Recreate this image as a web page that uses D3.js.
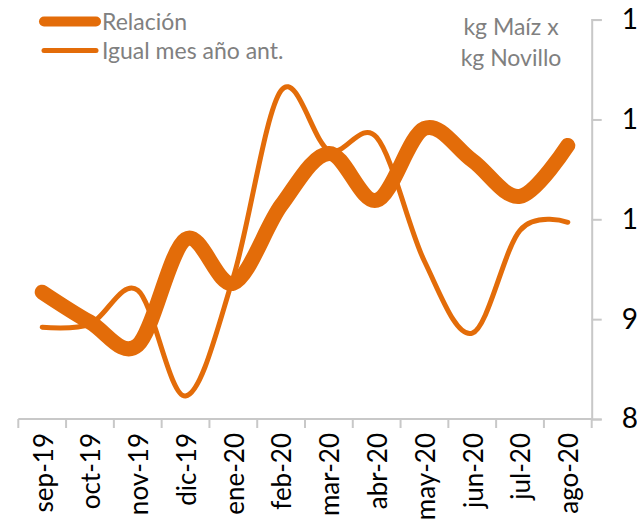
<!DOCTYPE html>
<html>
<head>
<meta charset="utf-8">
<script src="https://cdn.jsdelivr.net/npm/d3@7"></script>
<style>
  body { margin: 0; background: #fff; }
  svg { display: block; font-family: Lato, "Open Sans", sans-serif; }
</style>
</head>
<body>
<svg width="637" height="520"></svg>
<script>
// months shown on the x axis
var months = ["sep-19", "oct-19", "nov-19", "dic-19", "ene-20", "feb-20",
              "mar-20", "abr-20", "may-20", "jun-20", "jul-20", "ago-20"]
// kg maiz per kg novillo, current month
var relacion = [9.27, 8.97, 8.74, 9.80, 9.36, 10.14, 10.66, 10.19, 10.91, 10.59, 10.23, 10.74]
// same month a year before
var igualMes = [8.92, 8.95, 9.29, 8.23, 9.42, 11.29, 10.69, 10.82, 9.58, 8.86, 9.89, 9.97]
var yTicks = [8, 9, 10, 11, 12]

var orange = "#e36c09"
var grey = "#808080"
var axisGrey = "#c8c8c8"

window.onload = function () {
    var svg = d3.select("svg")

    var x = d3.scaleBand().domain(months).range([18.3, 591.7])
    var y = d3.scaleLinear().domain([8, 12]).range([419, 19.6])

    // y axis on the right (labels get cut by the edge, like the original)
    var yAxis = svg.append("g")
        .attr("transform", "translate(591.7,0)")
        .call(d3.axisRight(y).tickValues(yTicks).tickSize(10).tickPadding(20))
    yAxis.select(".domain").attr("stroke", axisGrey).attr("stroke-width", 2)
    yAxis.selectAll(".tick line").attr("stroke", axisGrey).attr("stroke-width", 2)
    yAxis.selectAll("text")
        .attr("font-size", 28)
        .attr("font-family", "Lato, sans-serif")
        .attr("fill", "#000")

    // x axis: line + ticks on band edges
    var xa = svg.append("g")
    xa.append("line")
        .attr("x1", x.range()[0]).attr("x2", x.range()[1])
        .attr("y1", y(8)).attr("y2", y(8))
        .attr("stroke", axisGrey).attr("stroke-width", 2)
    var edges = months.map(function (m) { return x(m) }).concat([x.range()[1]])
    xa.selectAll("line.edge")
        .data(edges)
        .enter().append("line")
        .attr("class", "edge")
        .attr("x1", function (d) { return d }).attr("x2", function (d) { return d })
        .attr("y1", y(8)).attr("y2", y(8) + 9)
        .attr("stroke", axisGrey).attr("stroke-width", 2)

    xa.selectAll("text.lab")
        .data(months)
        .enter().append("text")
        .attr("class", "lab")
        .attr("transform", function (d) {
            return "translate(" + (x(d) + x.bandwidth() / 2 + 1) + ",433) rotate(-90)"
        })
        .attr("dy", "0.36em")
        .attr("text-anchor", "end")
        .attr("font-size", 26)
        .attr("fill", "#000")
        .text(function (d) { return d })

    var line = d3.line()
        .x(function (d, i) { return x(months[i]) + x.bandwidth() / 2 })
        .y(function (d) { return y(d) })
        .curve(d3.curveCardinal.tension(0))

    svg.append("path")
        .datum(igualMes)
        .attr("d", line)
        .attr("fill", "none")
        .attr("stroke", orange)
        .attr("stroke-width", 5)
        .attr("stroke-linecap", "round")

    svg.append("path")
        .datum(relacion)
        .attr("d", line)
        .attr("fill", "none")
        .attr("stroke", orange)
        .attr("stroke-width", 15)
        .attr("stroke-linecap", "round")
        .attr("stroke-linejoin", "round")

    // legend
    var legend = [
        { name: "Relación", w: 10, y: 21.5 },
        { name: "Igual mes año ant.", w: 5, y: 50.5 }
    ]
    var lg = svg.append("g").selectAll("g")
        .data(legend)
        .enter().append("g")
    lg.append("line")
        .attr("x1", 44).attr("x2", 96)
        .attr("y1", function (d) { return d.y }).attr("y2", function (d) { return d.y })
        .attr("stroke", orange)
        .attr("stroke-width", function (d) { return d.w })
        .attr("stroke-linecap", "round")
    lg.append("text")
        .attr("x", 102)
        .attr("y", function (d) { return d.y + 8 })
        .attr("font-size", 23)
        .attr("fill", grey)
        .text(function (d) { return d.name })

    // unit note
    svg.append("text")
        .attr("x", 511).attr("y", 35)
        .attr("text-anchor", "middle")
        .attr("font-size", 23)
        .attr("fill", grey)
        .text("kg Maíz x")
    svg.append("text")
        .attr("x", 511).attr("y", 66)
        .attr("text-anchor", "middle")
        .attr("font-size", 23)
        .attr("fill", grey)
        .text("kg Novillo")
}
</script>
</body>
</html>
